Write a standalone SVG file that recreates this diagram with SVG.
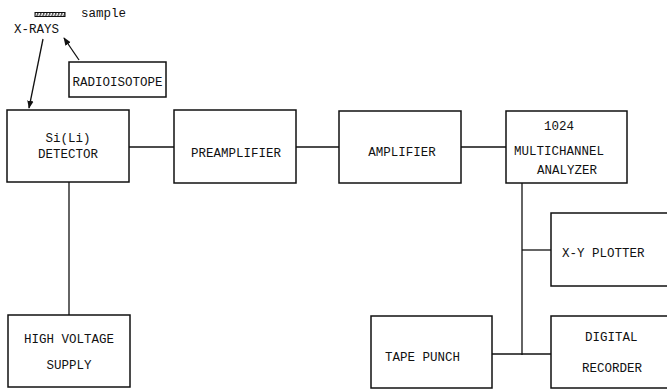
<svg xmlns="http://www.w3.org/2000/svg" width="667" height="389" viewBox="0 0 667 389">
<defs>
<style>
.box{fill:#fff;stroke:#111;stroke-width:1.5}
.ln{fill:none;stroke:#111;stroke-width:1.3}
text{font-family:"Liberation Mono","DejaVu Sans Mono",monospace;font-size:12.5px;fill:#111}
.c{text-anchor:middle}
</style>
<pattern id="hatch" width="3" height="4" patternUnits="userSpaceOnUse" patternTransform="skewX(-20)">
<rect width="3" height="4" fill="#fff"/>
<line x1="0.8" y1="0" x2="0.8" y2="4" stroke="#111" stroke-width="1.2"/>
</pattern>
<marker id="ah" viewBox="0 0 10 10" refX="9" refY="5" markerWidth="8" markerHeight="8" orient="auto" markerUnits="userSpaceOnUse">
<path d="M0,1 L10,5 L0,9 Z" fill="#111"/>
</marker>
</defs>
<g id="sample">
<rect x="35" y="12.5" width="30" height="4" fill="url(#hatch)" stroke="#111" stroke-width="1"/>
<text x="81" y="17">sample</text>
</g>
<g id="xrays"><text x="14" y="33">X-RAYS</text></g>
<g id="connectors">
<line class="ln" x1="43" y1="39" x2="29" y2="108" marker-end="url(#ah)"/>
<line class="ln" x1="79" y1="60" x2="64" y2="38" marker-end="url(#ah)"/>
<line class="ln" x1="129" y1="147" x2="174" y2="147"/>
<line class="ln" x1="296" y1="147" x2="339" y2="147"/>
<line class="ln" x1="461" y1="147" x2="506" y2="147"/>
<line class="ln" x1="69" y1="182" x2="69" y2="315"/>
<line class="ln" x1="522" y1="183" x2="522" y2="355"/>
<line class="ln" x1="522" y1="250" x2="551" y2="250"/>
<line class="ln" x1="492" y1="354" x2="551" y2="354"/>
</g>
<g id="radioisotope"><rect class="box" x="69" y="62" width="97" height="35"/><text class="c" x="117.5" y="86">RADIOISOTOPE</text></g>
<g id="detector"><rect class="box" x="7" y="110" width="122" height="72"/><text class="c" x="68" y="142">Si(Li)</text><text class="c" x="68" y="158">DETECTOR</text></g>
<g id="preamplifier"><rect class="box" x="174" y="110" width="122" height="73"/><text class="c" x="236" y="157">PREAMPLIFIER</text></g>
<g id="amplifier"><rect class="box" x="339" y="111" width="122" height="72"/><text class="c" x="402" y="156">AMPLIFIER</text></g>
<g id="analyzer"><rect class="box" x="506" y="111" width="121" height="72"/><text class="c" x="559" y="130">1024</text><text x="514" y="155">MULTICHANNEL</text><text x="537" y="174">ANALYZER</text></g>
<g id="hv"><rect class="box" x="8" y="315" width="122" height="72"/><text class="c" x="69" y="343">HIGH VOLTAGE</text><text class="c" x="69" y="369">SUPPLY</text></g>
<g id="plotter"><rect class="box" x="551" y="213" width="130" height="73"/><text x="562" y="257">X-Y PLOTTER</text></g>
<g id="tapepunch"><rect class="box" x="371" y="316" width="121" height="72"/><text x="385" y="361">TAPE PUNCH</text></g>
<g id="recorder"><rect class="box" x="551" y="316" width="130" height="72"/><text x="585" y="341">DIGITAL</text><text x="582" y="372">RECORDER</text></g>
</svg>
